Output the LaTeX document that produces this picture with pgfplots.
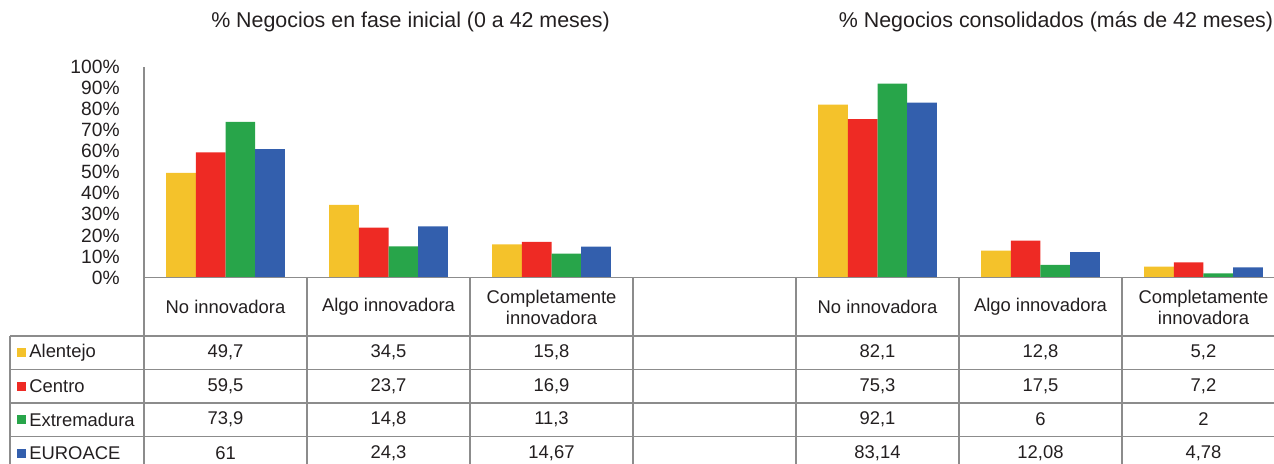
\documentclass[border=0pt]{standalone}
\usepackage{pgfplots}
\pgfplotsset{compat=1.18}
\usepackage{fontspec}
\setmainfont{Liberation Sans}
\definecolor{cA}{HTML}{F4C22B}
\definecolor{cC}{HTML}{EE2A24}
\definecolor{cE}{HTML}{28A54A}
\definecolor{cU}{HTML}{335FAD}
\definecolor{gridc}{HTML}{8C8C8C}
\definecolor{txt}{HTML}{231F20}
\begin{document}
\begin{tikzpicture}[font=\fontsize{9.2}{10.5}\selectfont, text=txt]
\path[use as bounding box] (0,0) rectangle (637pt,-231.5pt);
\begin{axis}[
  at={(72pt,-138.75pt)}, anchor=south west,
  width=570.5pt, height=105.25pt, scale only axis,
  xmin=-0.5, xmax=6.5, ymin=0, ymax=100,
  ybar=0pt, bar width=0.182,
  axis x line=none, axis y line=left,
  axis line style={draw=gridc, line width=0.75pt, -},
  ytick={0,10,...,100}, major tick length=0pt,
  /pgf/number format/assume math mode=true,
  yticklabel={\pgfmathprintnumber{\tick}\%},
  yticklabel style={anchor=east, inner sep=0pt, xshift=-12pt, font=\fontsize{9.6}{10}\selectfont, text=txt},
  clip=false,
]
\addplot[fill=cA, draw=none] coordinates {(0,49.7) (1,34.5) (2,15.8) (4,82.1) (5,12.8) (6,5.2)};
\addplot[fill=cC, draw=none] coordinates {(0,59.5) (1,23.7) (2,16.9) (4,75.3) (5,17.5) (6,7.2)};
\addplot[fill=cE, draw=none] coordinates {(0,73.9) (1,14.8) (2,11.3) (4,92.1) (5,6) (6,2)};
\addplot[fill=cU, draw=none] coordinates {(0,61) (1,24.3) (2,14.67) (4,83.14) (5,12.08) (6,4.78)};
\end{axis}
\begin{scope}[x=0.5pt, y=-0.5pt]
  % titles
  \node[font=\fontsize{10.7}{12}\selectfont] at (410.5,22) {\% Negocios en fase inicial (0 a 42 meses)};
  \node[font=\fontsize{10.7}{12}\selectfont] at (1056,22) {\% Negocios consolidados (más de 42 meses)};
  % table grid
  \draw[gridc, line width=0.75pt] (144,277.5) -- (1285,277.5);
  \foreach \y in {336,369.5,403,436.5,470}
    \draw[gridc, line width=0.75pt] (10,\y) -- (1285,\y);
  \foreach \x in {144,307,470,633,796,959,1122,1285}
    \draw[gridc, line width=0.75pt] (\x,277.5) -- (\x,480);
  \draw[gridc, line width=0.75pt] (10,336) -- (10,480);
  % headers
  \foreach \x/\lab in {225.5/No innovadora, 388.5/Algo innovadora, 551.5/{Completamente\\innovadora},
                       877.5/No innovadora, 1040.5/Algo innovadora, 1203.5/{Completamente\\innovadora}}
    \node[align=center] at (\x,307) {\lab};
  % row labels
  \foreach \y/\c/\lab in {352.5/cA/Alentejo, 386/cC/Centro, 419.5/cE/Extremadura, 453/cU/EUROACE} {
    \fill[\c] (17,\y-4.5) rectangle (26,\y+4.5);
    \node[anchor=west, inner sep=0pt] at (29,\y) {\lab};
  }
  % values
  \foreach \x/\a/\b/\cc/\d in {225.5/{49,7}/{59,5}/{73,9}/61, 388.5/{34,5}/{23,7}/{14,8}/{24,3},
        551.5/{15,8}/{16,9}/{11,3}/{14,67}, 877.5/{82,1}/{75,3}/{92,1}/{83,14},
        1040.5/{12,8}/{17,5}/6/{12,08}, 1203.5/{5,2}/{7,2}/2/{4,78}} {
    \node at (\x,352.5) {\a};
    \node at (\x,386) {\b};
    \node at (\x,419.5) {\cc};
    \node at (\x,453) {\d};
  }
\end{scope}
\end{tikzpicture}
\end{document}
